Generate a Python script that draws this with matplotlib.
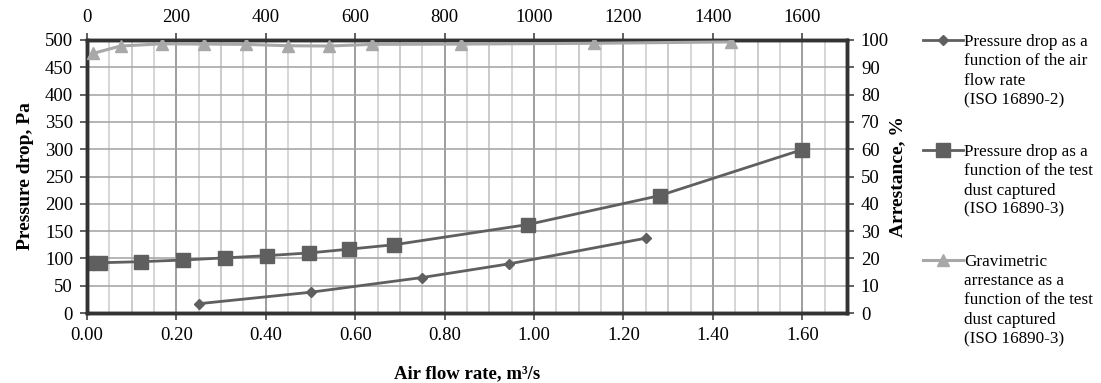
import matplotlib
matplotlib.use("Agg")
import matplotlib.pyplot as plt
from matplotlib.ticker import MultipleLocator, FormatStrFormatter
from matplotlib.legend_handler import HandlerLine2D

plt.rcParams['font.family'] = ['Liberation Serif', 'DejaVu Serif']

# pressure drop vs air flow rate (ISO 16890-2)
flow_x = [0.25, 0.50, 0.75, 0.944, 1.25]
flow_dp = [17, 38, 65, 90, 137]

# pressure drop vs dust captured (ISO 16890-3), dust in kg on the bottom scale
dust_x = [0.0, 0.028, 0.121, 0.214, 0.309, 0.402, 0.497, 0.587, 0.687, 0.986, 1.281, 1.599]
dust_dp = [92, 92, 94, 97, 101, 105, 110, 117, 125, 162, 215, 299]

# gravimetric arrestance vs dust captured, g (top scale)
arr_x = [14, 75, 168, 262, 355, 449, 542, 638, 836, 1133, 1440]
arr_y = [95.1, 97.8, 98.6, 98.5, 98.4, 97.9, 97.8, 98.4, 98.5, 98.8, 99.3]

labels = ["Pressure drop as a\nfunction of the air\nflow rate\n(ISO 16890-2)",
          "Pressure drop as a\nfunction of the test\ndust captured\n(ISO 16890-3)",
          "Gravimetric\narrestance as a\nfunction of the test\ndust captured\n(ISO 16890-3)"]

dark = '#5f5f5f'
light = '#a8a8a8'
spine_c = '#333333'
fs = 13.5
lfs = 12.3
lspace = 1.28
line_h = 14.6  # legend text line height in points


class TopHandler(HandlerLine2D):
    # put the legend key next to the first line of a multi-line label
    def __init__(self, nlines, **kw):
        super().__init__(**kw)
        self.shift = (nlines - 1) / 2 * line_h

    def create_artists(self, legend, orig_handle, xdescent, ydescent,
                       width, height, fontsize, trans):
        # line y is (height - ydescent) / 2, so move ydescent twice the shift
        return super().create_artists(legend, orig_handle, xdescent,
                                      ydescent - 2 * self.shift, width, height,
                                      fontsize, trans)


fig = plt.figure(figsize=(11.01, 3.83), dpi=100)
ax = fig.add_axes([87/1101, 70/383, 760/1101, 273/383])
ax2 = ax.twinx()
ax3 = ax2.twiny()

ax.set_xlim(0, 1.70)
ax.set_ylim(0, 500)
ax2.set_ylim(0, 100)
ax3.set_xlim(0, 1700)

# grid
ax.xaxis.set_minor_locator(MultipleLocator(0.05))
ax.grid(True, which='minor', axis='x', color='#d0d0d0', lw=1.2)
for v in [0.1 + 0.2 * i for i in range(9)]:
    ax.axvline(v, color='#b0b0b0', lw=1.2, zorder=0.5)
ax.grid(True, which='major', axis='x', color='#8c8c8c', lw=1.2)
ax.grid(True, which='major', axis='y', color='#a8a8a8', lw=1.2)
ax.set_axisbelow(True)
ax.tick_params(axis='x', which='minor', length=0)

ax.xaxis.set_major_locator(MultipleLocator(0.2))
ax.xaxis.set_major_formatter(FormatStrFormatter('%.2f'))
ax.yaxis.set_major_locator(MultipleLocator(50))
ax2.yaxis.set_major_locator(MultipleLocator(10))
ax3.xaxis.set_major_locator(MultipleLocator(200))

for a in (ax, ax2, ax3):
    a.tick_params(labelsize=fs, length=5, width=1.2, color='#444444', pad=5)
    for s in a.spines.values():
        s.set_color(spine_c)
        s.set_linewidth(2.4)
ax3.set_xticks([1700], minor=True)
ax3.tick_params(axis='x', which='minor', length=0)

l1, = ax.plot(flow_x, flow_dp, color=dark, lw=2, marker='D', ms=5.5, zorder=3)
l2, = ax.plot(dust_x, dust_dp, color=dark, lw=2, marker='s', ms=9.5, zorder=3)
l3, = ax3.plot(arr_x, arr_y, color=light, lw=2.2, marker='^', ms=8.5, zorder=3)

ax.set_xlabel("Air flow rate, m³/s", fontsize=13.5, fontweight='bold', labelpad=15.5)
ax.set_ylabel("Pressure drop, Pa", fontsize=14, fontweight='bold', labelpad=8)
ax2.set_ylabel("Arrestance, %", fontsize=14, fontweight='bold', labelpad=0)
ax3.set_xlabel("Test dust captured, g", fontsize=13.5, fontweight='bold', labelpad=12)

handles = [l1, l2, l3]
hmap = {h: TopHandler(lab.count("\n") + 1) for h, lab in zip(handles, labels)}
leg = fig.legend(handles, labels, loc='upper left', bbox_to_anchor=(916/1101, 1 - 27/383),
                 frameon=False, fontsize=lfs, handlelength=2.35, handletextpad=0.05,
                 labelspacing=2.1, borderaxespad=0, handler_map=hmap)
for t in leg.get_texts():
    t.set_linespacing(lspace)

fig.savefig("out.png", dpi=100)
